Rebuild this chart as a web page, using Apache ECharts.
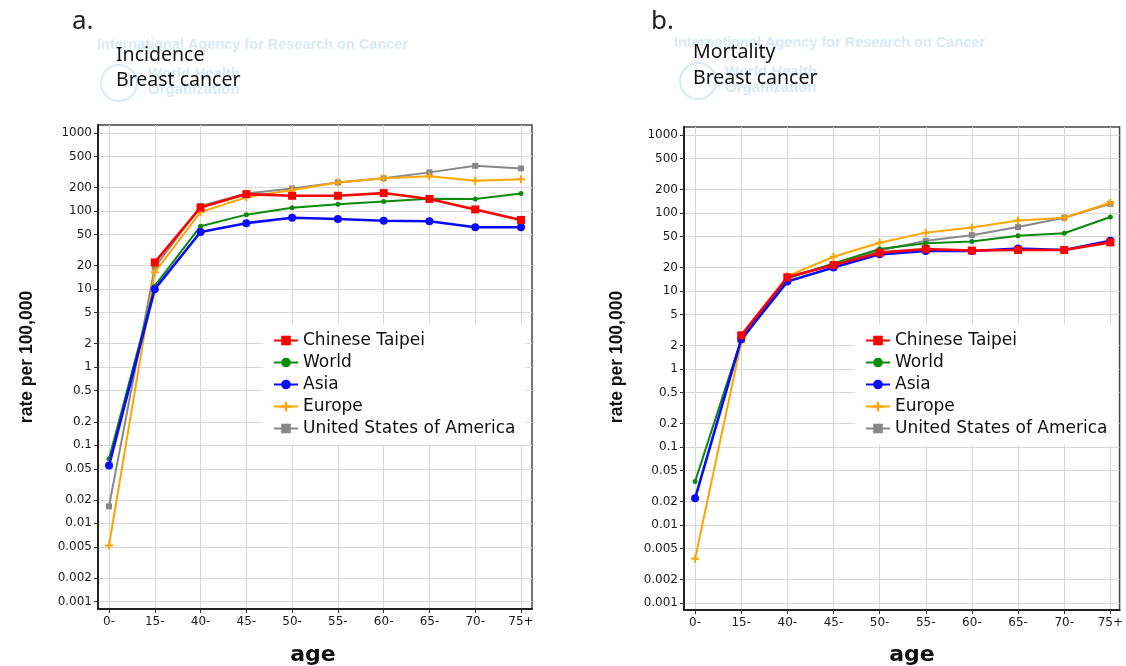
<!DOCTYPE html>
<html>
<head>
<meta charset="utf-8">
<script src="https://cdn.jsdelivr.net/npm/echarts@6/dist/echarts.min.js"></script>
<style>
html,body{margin:0;padding:0;background:#fff;}
#chart{width:1126px;height:666px;}
</style>
</head>
<body>
<div id="chart"></div>
<script>
// ---- data ----
const ages = ['0-','15-','40-','45-','50-','55-','60-','65-','70-','75+'];
const tickLabels = ['1000','500','200','100','50','20','10','5','2','1','0.5','0.2','0.1','0.05','0.02','0.01','0.005','0.002','0.001'];
const seriesNames = ['Chinese Taipei','World','Asia','Europe','United States of America'];

// Incidence (a)
const taipeiInc = [null, 22, 111, 165, 157, 157, 170, 143, 105, 77];
const worldInc  = [0.067, 11, 64, 90, 110, 122, 133, 144, 143, 168];
const asiaInc   = [0.055, 10, 54, 70, 82, 79, 75, 74, 62, 62];
const europeInc = [0.0052, 16.5, 97, 150, 186, 233, 263, 280, 245, 255];
const usaInc    = [0.0165, 19, 116, 168, 195, 233, 263, 313, 380, 352];

// Mortality (b)
const taipeiMort = [null, 2.7, 15, 21.5, 31, 34.5, 33, 33.5, 33.5, 42];
const worldMort  = [0.036, 2.4, 14.5, 22.5, 34.5, 41, 43, 51, 55, 89];
const asiaMort   = [0.022, 2.4, 13.2, 20, 29.5, 32.5, 32.5, 35, 33.5, 44];
const europeMort = [0.0037, 2.2, 15.5, 27.5, 41.5, 56, 65, 80, 87, 135];
const usaMort    = [null, 2.5, 15, 22, 33, 44, 52, 66, 87, 131];

// ---- build ----
const tickValues = tickLabels.map(Number);
const tickLogs = tickValues.map(v => Math.log10(v));
const yMin = [0.0008, 0.000813];
const yMax = [1266, 1266];
const xIdx = ages.map((a, i) => i);

const styles = {
  'Chinese Taipei': {color:'#ff0000', symbol:'rect', size:8, width:2.6},
  'World': {color:'#0b8a0b', symbol:'circle', size:5, width:2},
  'Asia': {color:'#0a0aff', symbol:'circle', size:8, width:2.6},
  'Europe': {color:'#ffa500', symbol:'path://M3,0h2v3h3v2h-3v3h-2v-3h-3v-2h3z', size:8, width:2},
  'United States of America': {color:'#888888', symbol:'rect', size:6, width:2}
};

function pts(arr){ return arr.map((v,i) => [i, v == null ? '-' : v]); }

const panels = [
  {'Chinese Taipei':taipeiInc,'World':worldInc,'Asia':asiaInc,'Europe':europeInc,'United States of America':usaInc},
  {'Chinese Taipei':taipeiMort,'World':worldMort,'Asia':asiaMort,'Europe':europeMort,'United States of America':usaMort}
];
const drawOrder = ['United States of America','Europe','World','Asia','Chinese Taipei'];

const series = [];
panels.forEach((p, k) => {
  drawOrder.forEach((name, j) => {
    const s = styles[name];
    series.push({
      type:'line', name, xAxisIndex:k, yAxisIndex:k*2,
      data: pts(p[name]),
      symbol:s.symbol, symbolSize:s.size, showSymbol:true,
      lineStyle:{color:s.color, width:s.width},
      itemStyle:{color:s.color},
      z: 2 + j, animation:false, connectNulls:false
    });
  });
});

const labelFont = {fontFamily:'DejaVu Sans', fontSize:12, color:'#1a1a1a'};

function xAxis(k, max){
  return {
    type:'value', gridIndex:k, min:-0.24, max:max,
    axisLine:{show:true, onZero:false, lineStyle:{color:'#222', width:2}},
    axisTick:{show:true, length:4, customValues:xIdx, lineStyle:{color:'#333'}},
    axisLabel:Object.assign({customValues:xIdx, margin:7, formatter:v => ages[Math.round(v)]}, labelFont),
    splitLine:{show:true, lineStyle:{color:'#d8d8d8', width:1}}
  };
}
function logAxis(k){
  return {type:'log', gridIndex:k, logBase:10, min:yMin[k], max:yMax[k], show:false,
    axisLine:{show:false}, axisTick:{show:false}, axisLabel:{show:false}, splitLine:{show:false}};
}
function tickAxis(k){
  return {
    type:'value', gridIndex:k, position:'left',
    min:Math.log10(yMin[k]), max:Math.log10(yMax[k]),
    axisLine:{show:true, lineStyle:{color:'#222', width:2}},
    axisTick:{show:true, length:4, customValues:tickLogs, lineStyle:{color:'#333'}},
    axisLabel:Object.assign({customValues:tickLogs, margin:6, formatter:v => {
      const i = tickLogs.findIndex(t => Math.abs(t - v) < 1e-6);
      return i >= 0 ? tickLabels[i] : '';
    }}, labelFont),
    splitLine:{show:true, lineStyle:{color:'#d8d8d8', width:1}}
  };
}

const legendBase = {
  orient:'vertical', data:seriesNames, backgroundColor:'#fff',
  padding:[8,10,8,10], itemGap:5, itemWidth:24, itemHeight:12,
  textStyle:{fontFamily:'DejaVu Sans', fontSize:17, color:'#111', lineHeight:17},
  selectedMode:false
};

const wm = '#d8eaf8';
function txt(x, y, text, font, fill, extra){
  return {type:'text', silent:true, style:Object.assign({x, y, text, font, fill, align:'left', verticalAlign:'middle'}, extra||{})};
}

const option = {
  backgroundColor:'#fff',
  animation:false,
  grid:[
    {left:98, top:125, width:434, height:484, show:true, borderColor:'#444', borderWidth:1.5, backgroundColor:'transparent'},
    {left:684, top:127, width:437, height:483, show:true, borderColor:'#444', borderWidth:1.5, backgroundColor:'transparent'}
  ],
  xAxis:[xAxis(0, 9.24), xAxis(1, 9.2)],
  yAxis:[logAxis(0), tickAxis(0), logAxis(1), tickAxis(1)],
  legend:[
    Object.assign({left:263, top:324}, legendBase),
    Object.assign({left:855, top:324}, legendBase)
  ],
  graphic:[
    // watermarks
    txt(97, 45, 'International Agency for Research on Cancer', 'bold 14.5px Liberation Sans', wm),
    txt(148, 74, 'World Health', 'bold 15px Liberation Sans', wm),
    txt(148, 90, 'Organization', 'bold 15px Liberation Sans', wm),
    {type:'circle', silent:true, shape:{cx:119, cy:83, r:18}, style:{fill:'none', stroke:wm, lineWidth:2}},
    txt(674, 43, 'International Agency for Research on Cancer', 'bold 14.5px Liberation Sans', wm),
    txt(725, 72, 'World Health', 'bold 15px Liberation Sans', wm),
    txt(725, 88, 'Organization', 'bold 15px Liberation Sans', wm),
    {type:'circle', silent:true, shape:{cx:698, cy:81, r:18}, style:{fill:'none', stroke:wm, lineWidth:2}},
    // panel letters and titles
    txt(72, 22, 'a.', '26px Noto Sans', '#222'),
    txt(651, 22, 'b.', '26px Noto Sans', '#222'),
    txt(116, 55, 'Incidence', '19.5px Noto Sans', '#111'),
    txt(116, 80, 'Breast cancer', '19.5px Noto Sans', '#111'),
    txt(693, 52, 'Mortality', '19.5px Noto Sans', '#111'),
    txt(693, 78, 'Breast cancer', '19.5px Noto Sans', '#111'),
    // axis titles
    txt(313, 655, 'age', 'bold 22px DejaVu Sans', '#111', {align:'center'}),
    txt(912, 655, 'age', 'bold 22px DejaVu Sans', '#111', {align:'center'}),
    {type:'text', silent:true, x:27, y:357, rotation:Math.PI/2,
      style:{x:0, y:0, text:'rate per 100,000', font:'bold 17.5px Liberation Sans', fill:'#111', align:'center', verticalAlign:'middle'}},
    {type:'text', silent:true, x:617, y:357, rotation:Math.PI/2,
      style:{x:0, y:0, text:'rate per 100,000', font:'bold 17.5px Liberation Sans', fill:'#111', align:'center', verticalAlign:'middle'}}
  ],
  series
};

const chart = echarts.init(document.getElementById('chart'), null, {renderer:'canvas'});
chart.setOption(option);
</script>
</body>
</html>
